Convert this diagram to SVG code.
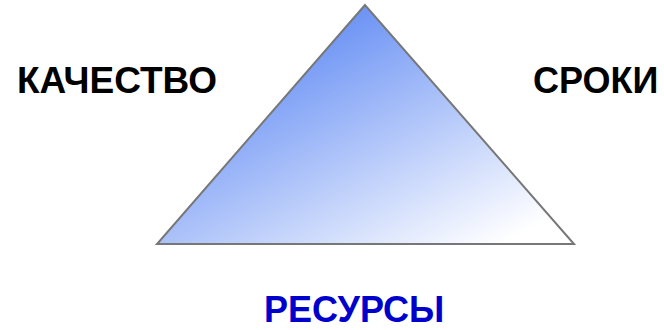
<svg xmlns="http://www.w3.org/2000/svg" width="664" height="330" viewBox="0 0 664 330">
<style>
.lbl{font-family:"Liberation Sans",Arial,sans-serif;font-weight:bold;font-size:36px;fill:#000}
.blue{fill:#0000CC}
</style>
<defs>
<linearGradient id="g" gradientUnits="userSpaceOnUse" x1="340" y1="10" x2="470" y2="260">
<stop offset="0" stop-color="#6890F4"/>
<stop offset="1" stop-color="#FFFFFF"/>
</linearGradient>
</defs>
<rect width="664" height="330" fill="#fff"/>
<g id="triangle">
<polygon points="365,5 157,244 574,244" fill="url(#g)" stroke="#777" stroke-width="2"/>
</g>
<g id="kachestvo"><text class="lbl" x="17" y="93" style="font-size:37px">КАЧЕСТВО</text></g>
<g id="sroki"><text class="lbl" x="533" y="93">СРОКИ</text></g>
<g id="resursy"><text class="lbl blue" x="264" y="322">РЕСУРСЫ</text></g>
</svg>
